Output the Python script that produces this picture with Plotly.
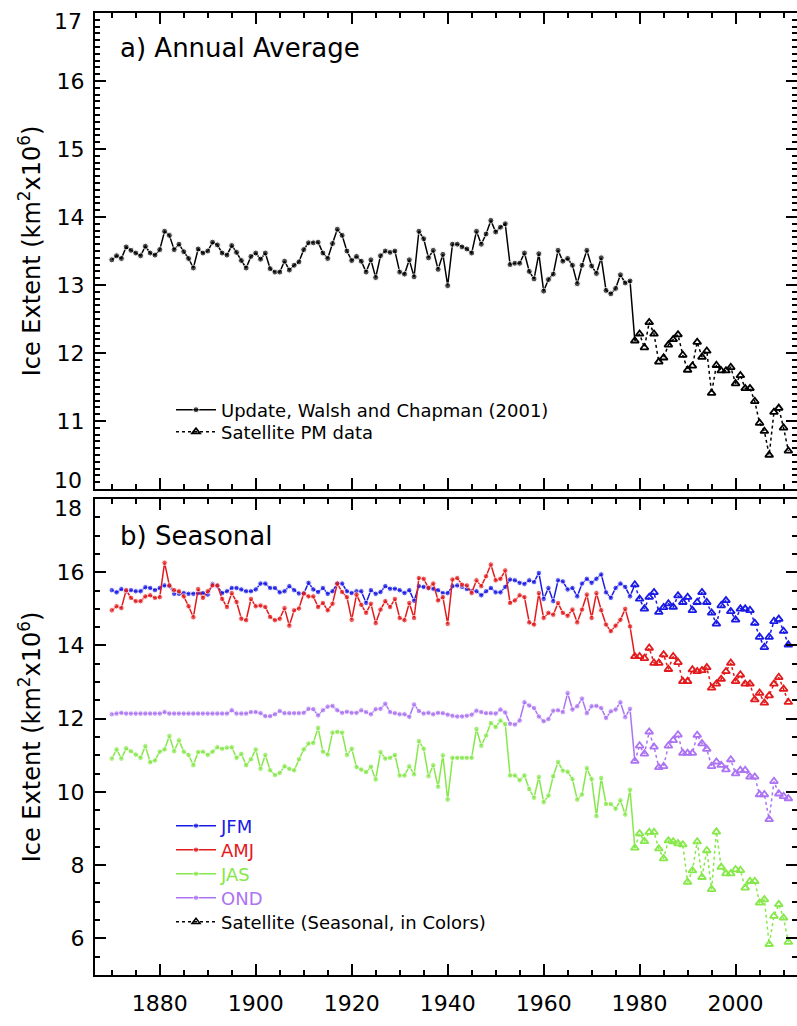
import plotly.graph_objects as go

# ---------------- data ----------------
years_hist = list(range(1870, 1979))
years_sat = list(range(1979, 2012))

annual_hist = [
    13.37, 13.43, 13.39, 13.56, 13.51, 13.47, 13.43, 13.57, 13.47, 13.44,
    13.52, 13.79, 13.73, 13.52, 13.60, 13.49, 13.39, 13.25, 13.53, 13.47,
    13.50, 13.63, 13.59, 13.47, 13.44, 13.58, 13.48, 13.36, 13.25, 13.42,
    13.47, 13.38, 13.47, 13.24, 13.19, 13.19, 13.35, 13.22, 13.29, 13.34,
    13.52, 13.62, 13.62, 13.63, 13.47, 13.39, 13.61, 13.82, 13.73, 13.50,
    13.36, 13.42, 13.35, 13.19, 13.37, 13.11, 13.43, 13.50, 13.48, 13.50,
    13.19, 13.16, 13.37, 13.12, 13.79, 13.68, 13.40, 13.51, 13.23, 13.45,
    12.99, 13.60, 13.60, 13.56, 13.53, 13.47, 13.79, 13.60, 13.75, 13.95,
    13.78, 13.85, 13.90, 13.30, 13.32, 13.32, 13.47, 13.20, 13.09, 13.46,
    12.91, 13.08, 13.16, 13.51, 13.35, 13.39, 13.29, 13.02, 13.29, 13.51,
    13.28, 13.17, 13.40, 12.92, 12.87, 12.95, 13.15, 13.03, 13.06,
]
annual_sat = [
    12.18, 12.28, 12.08, 12.45, 12.28, 11.87, 11.93, 12.12, 12.20, 12.27,
    11.97, 11.75, 11.81, 12.16, 11.94, 12.03, 11.41, 11.82, 11.74, 11.74,
    11.79, 11.55, 11.67, 11.48, 11.48, 11.29, 10.97, 10.85, 10.50, 11.13,
    11.19, 10.90, 10.56,
]

jfm_hist = [
    15.51, 15.45, 15.54, 15.48, 15.51, 15.48, 15.48, 15.59, 15.57, 15.51,
    15.57, 15.64, 15.62, 15.41, 15.41, 15.43, 15.41, 15.41, 15.43, 15.43,
    15.39, 15.68, 15.62, 15.43, 15.48, 15.57, 15.57, 15.53, 15.48, 15.48,
    15.53, 15.69, 15.69, 15.57, 15.57, 15.45, 15.48, 15.62, 15.51, 15.42,
    15.42, 15.71, 15.53, 15.46, 15.57, 15.41, 15.48, 15.69, 15.69, 15.48,
    15.43, 15.48, 15.48, 15.16, 15.51, 15.41, 15.46, 15.62, 15.55, 15.55,
    15.51, 15.43, 15.51, 15.22, 15.62, 15.60, 15.57, 15.55, 15.51, 15.43,
    15.43, 15.62, 15.64, 15.60, 15.54, 15.48, 15.48, 15.37, 15.48, 15.57,
    15.45, 15.45, 15.60, 15.80, 15.78, 15.71, 15.68, 15.78, 15.73, 15.98,
    15.27, 15.57, 15.21, 15.78, 15.75, 15.53, 15.57, 15.34, 15.69, 15.82,
    15.71, 15.82, 15.94, 15.45, 15.30, 15.57, 15.69, 15.60, 15.34,
]
jfm_sat = [
    15.66, 15.27, 15.00, 15.32, 15.45, 14.91, 15.04, 15.14, 15.05, 15.36,
    15.18, 15.32, 14.96, 15.18, 15.45, 15.18, 14.89, 14.59, 15.09, 15.23,
    14.93, 14.70, 15.00, 15.00, 14.96, 14.61, 14.23, 13.95, 14.23, 14.66,
    14.72, 14.39, 14.02,
]

amj_hist = [
    14.96, 15.07, 15.02, 15.51, 15.30, 15.21, 15.21, 15.34, 15.37, 15.30,
    15.32, 16.26, 15.64, 15.51, 15.48, 15.34, 15.07, 14.77, 15.54, 15.30,
    15.48, 15.64, 15.64, 15.27, 15.05, 15.43, 15.19, 14.73, 14.69, 15.27,
    15.07, 15.09, 15.05, 14.78, 14.69, 14.73, 15.02, 14.54, 14.96, 15.01,
    15.42, 15.34, 15.34, 15.05, 15.16, 14.96, 15.14, 15.69, 15.46, 15.32,
    14.70, 15.39, 15.11, 14.89, 15.14, 14.61, 14.98, 15.21, 15.05, 15.27,
    14.75, 14.69, 15.16, 14.75, 15.84, 15.82, 15.57, 15.69, 15.23, 15.32,
    14.59, 15.80, 15.84, 15.66, 15.64, 15.43, 15.78, 15.62, 15.89, 16.21,
    15.78, 15.82, 16.05, 15.16, 15.23, 15.37, 15.32, 14.63, 14.57, 15.43,
    14.75, 14.89, 14.84, 15.16, 14.89, 14.81, 14.98, 14.63, 14.98, 15.39,
    14.75, 15.43, 14.96, 14.57, 14.39, 14.54, 14.70, 15.00, 14.52,
]
amj_sat = [
    13.70, 13.70, 13.65, 13.93, 13.52, 13.52, 13.75, 13.35, 13.70, 13.54,
    13.02, 13.02, 13.34, 13.29, 13.32, 13.40, 12.84, 12.95, 13.08, 13.29,
    13.52, 13.02, 13.20, 12.95, 12.95, 12.52, 12.70, 12.43, 12.63, 12.95,
    13.13, 12.81, 12.45,
]

jas_hist = [
    10.91, 11.16, 10.91, 11.19, 11.11, 11.02, 10.93, 11.25, 10.81, 10.86,
    11.10, 11.16, 11.53, 11.11, 11.41, 11.10, 11.01, 10.73, 11.09, 11.10,
    11.01, 11.10, 11.22, 11.18, 11.21, 11.22, 10.93, 11.04, 10.73, 10.89,
    11.16, 10.63, 11.01, 10.59, 10.46, 10.52, 10.70, 10.63, 10.59, 10.89,
    11.16, 11.32, 11.34, 11.75, 11.10, 11.02, 11.62, 11.64, 11.62, 11.01,
    11.18, 10.68, 10.61, 10.54, 10.69, 10.34, 11.09, 10.91, 10.93, 11.01,
    10.45, 10.45, 10.70, 10.48, 11.39, 11.18, 10.43, 10.73, 10.14, 11.00,
    9.79, 10.93, 10.93, 10.93, 10.93, 10.93, 11.72, 11.26, 11.54, 11.88,
    11.77, 11.95, 11.85, 10.45, 10.45, 10.32, 10.45, 10.08, 9.84, 10.41,
    9.72, 9.90, 10.43, 10.82, 10.58, 10.55, 10.35, 9.79, 9.93, 10.65,
    10.35, 9.34, 10.38, 9.67, 9.67, 9.54, 9.77, 9.38, 10.06,
]
jas_sat = [
    8.47, 8.86, 8.65, 8.90, 8.90, 8.45, 8.18, 8.67, 8.64, 8.59,
    8.56, 7.54, 7.85, 8.64, 7.67, 8.40, 7.34, 8.91, 7.95, 7.77,
    7.77, 7.88, 7.86, 7.38, 7.56, 7.56, 6.97, 7.06, 5.84, 6.61,
    6.93, 6.56, 5.90,
]

ond_hist = [
    12.12, 12.14, 12.16, 12.14, 12.14, 12.14, 12.14, 12.14, 12.14, 12.14,
    12.14, 12.18, 12.14, 12.14, 12.14, 12.14, 12.14, 12.14, 12.14, 12.14,
    12.14, 12.14, 12.14, 12.14, 12.14, 12.23, 12.14, 12.14, 12.14, 12.18,
    12.18, 12.15, 12.07, 12.07, 12.12, 12.21, 12.15, 12.15, 12.15, 12.15,
    12.16, 12.27, 12.26, 12.09, 12.23, 12.33, 12.35, 12.23, 12.16, 12.19,
    12.16, 12.16, 12.23, 12.18, 12.12, 12.26, 12.27, 12.41, 12.18, 12.15,
    12.12, 12.12, 12.05, 12.39, 12.21, 12.14, 12.16, 12.12, 12.16, 12.15,
    12.11, 12.08, 12.06, 12.06, 12.08, 12.11, 12.22, 12.18, 12.15, 12.15,
    12.14, 12.25, 12.17, 11.86, 11.84, 11.95, 12.45, 12.36, 12.29, 12.06,
    11.93, 11.99, 12.22, 12.23, 12.18, 12.70, 12.25, 12.34, 12.55, 12.15,
    12.34, 12.35, 12.29, 12.02, 12.20, 12.25, 12.45, 12.04, 12.27,
]
ond_sat = [
    10.84, 11.26, 11.04, 11.64, 11.23, 10.67, 10.70, 11.26, 11.41, 11.56,
    11.06, 11.06, 11.06, 11.55, 11.32, 11.17, 10.70, 10.82, 10.73, 10.61,
    10.88, 10.50, 10.59, 10.59, 10.41, 10.41, 9.93, 9.93, 9.25, 10.29,
    9.95, 9.88, 9.82,
]

season_names = ["JFM", "AMJ", "JAS", "OND"]
season_colors = ["#1a1ae6", "#e31a1c", "#86e84a", "#ac74f2"]
season_hist = [jfm_hist, amj_hist, jas_hist, ond_hist]
season_sat = [jfm_sat, amj_sat, jas_sat, ond_sat]

top_ticks = [11, 12, 13, 14, 15, 16]
bottom_ticks = [6, 8, 10, 12, 14, 16]
x_ticks = [1880, 1900, 1920, 1940, 1960, 1980, 2000]

# ---------------- layout geometry ----------------
FONT = "DejaVu Sans"
W, H = 797, 1026
ML, MR, MT, MB = 95, 0, 13, 51
ph = H - MT - MB
pw = W - ML - MR


def py(p):  # pixel y -> paper y
    return (H - MB - p) / ph


def px(p):  # pixel x -> paper x
    return (p - ML) / pw


fig = go.Figure()


def hist_line(vals, sat_vals):
    # historical record, joined by a solid line to the first satellite year
    return years_hist + years_sat[:1], vals + sat_vals[:1]


# ---- top panel ----
xs, ys = hist_line(annual_hist, annual_sat)
fig.add_trace(go.Scatter(
    x=xs, y=ys, mode="lines+markers", xaxis="x", yaxis="y",
    line=dict(color="black", width=1.5),
    marker=dict(symbol="circle", size=[6] * len(annual_hist) + [0], color="black"),
    name="Update, Walsh and Chapman (2001)", legend="legend",
))
fig.add_trace(go.Scatter(
    x=years_sat, y=annual_sat, mode="lines+markers", xaxis="x", yaxis="y",
    line=dict(color="black", width=1.5, dash="dot"),
    marker=dict(symbol="triangle-up-open", size=7, color="black",
                line=dict(width=1.8)),
    name="Satellite PM data", legend="legend2",
))

# ---- bottom panel ----
leg_ids = ["legend3", "legend4", "legend5", "legend6"]
for nm, col, hv, sv, lg in zip(season_names, season_colors, season_hist,
                               season_sat, leg_ids):
    xs, ys = hist_line(hv, sv)
    fig.add_trace(go.Scatter(
        x=xs, y=ys, mode="lines+markers", xaxis="x2", yaxis="y2",
        line=dict(color=col, width=1.5),
        marker=dict(symbol="circle", size=[5.5] * len(hv) + [0], color=col),
        name=f'<span style="color:{col}">{nm}</span>', legend=lg,
    ))
for col, sv in zip(season_colors, season_sat):
    fig.add_trace(go.Scatter(
        x=years_sat, y=sv, mode="lines+markers", xaxis="x2", yaxis="y2",
        line=dict(color=col, width=1.5, dash="dot"),
        marker=dict(symbol="triangle-up-open", size=7, color=col,
                    line=dict(width=1.8)),
        showlegend=False,
    ))
fig.add_trace(go.Scatter(
    x=[None], y=[None], mode="lines+markers", xaxis="x2", yaxis="y2",
    line=dict(color="black", width=1.5, dash="dot"),
    marker=dict(symbol="triangle-up-open", size=7, color="black",
                line=dict(width=1.5)),
    name="Satellite (Seasonal, in Colors)", legend="legend7",
))

common_x = dict(
    range=[1866.5, 2012.8], tickvals=x_ticks, ticks="inside", ticklen=11,
    tickwidth=1.8, tickcolor="black", showline=True, linecolor="black",
    linewidth=2, mirror="allticks", showgrid=False, zeroline=False,
    minor=dict(dtick=5, tick0=1880, ticks="inside", ticklen=5, tickwidth=1.5,
               tickcolor="black", showgrid=False),
    tickfont=dict(family=FONT, size=22, color="black"),
)
common_y = dict(
    ticks="inside", ticklen=11, tickwidth=1.8, tickcolor="black",
    showline=True, linecolor="black", linewidth=2, mirror="allticks",
    showgrid=False, zeroline=False, ticklabelstandoff=4,
    tickfont=dict(family=FONT, size=22, color="black"),
    title=dict(text="Ice Extent (km<sup>2</sup>x10<sup>6</sup>)",
               font=dict(family=FONT, size=24, color="black"), standoff=9),
)


def legend_at(ypix):
    return dict(x=px(171), y=py(ypix), xanchor="left", yanchor="middle",
                bgcolor="rgba(0,0,0,0)", font=dict(family=FONT, size=18),
                itemwidth=40, tracegroupgap=0)


def ytick_note(text, ypix):
    return dict(text=text, x=px(84), y=py(ypix), xref="paper", yref="paper",
                xanchor="right", yanchor="middle", showarrow=False,
                font=dict(family=FONT, size=22, color="black"))


fig.update_layout(
    width=W, height=H,
    margin=dict(l=ML, r=MR, t=MT, b=MB, autoexpand=False),
    paper_bgcolor="white", plot_bgcolor="white",
    font=dict(family=FONT, color="black"),
    xaxis=dict(common_x, domain=[0, 1], anchor="y", showticklabels=False),
    yaxis=dict(common_y, domain=[py(489), 1], anchor="x", range=[10, 17],
               tickvals=top_ticks,
               minor=dict(dtick=0.1, tick0=10, ticks="inside", ticklen=5,
                          tickwidth=1.5, tickcolor="black")),
    xaxis2=dict(common_x, domain=[0, 1], anchor="y2", matches="x",
                ticklabelstandoff=8),
    yaxis2=dict(common_y, domain=[0, py(499)], anchor="x2", range=[5, 18],
                tickvals=bottom_ticks,
                minor=dict(dtick=0.5, tick0=5, ticks="inside", ticklen=5,
                           tickwidth=1.5, tickcolor="black")),
    legend=legend_at(410),
    legend2=legend_at(432),
    legend3=legend_at(826),
    legend4=legend_at(850),
    legend5=legend_at(874),
    legend6=legend_at(898),
    legend7=legend_at(922),
    annotations=[
        dict(text="a) Annual Average", x=px(118), y=py(48), xref="paper",
             yref="paper", xanchor="left", yanchor="middle", showarrow=False,
             font=dict(family=FONT, size=26, color="black")),
        dict(text="b) Seasonal", x=px(118), y=py(536), xref="paper",
             yref="paper", xanchor="left", yanchor="middle", showarrow=False,
             font=dict(family=FONT, size=26, color="black")),
        # axis-end labels sit just inside the panel, as in the original
        ytick_note("17", 21),
        ytick_note("10", 480),
        ytick_note("18", 508),
    ],
)

fig.write_html("out.html", config={"displayModeBar": False},
               post_script="document.body.style.margin='0px';")
